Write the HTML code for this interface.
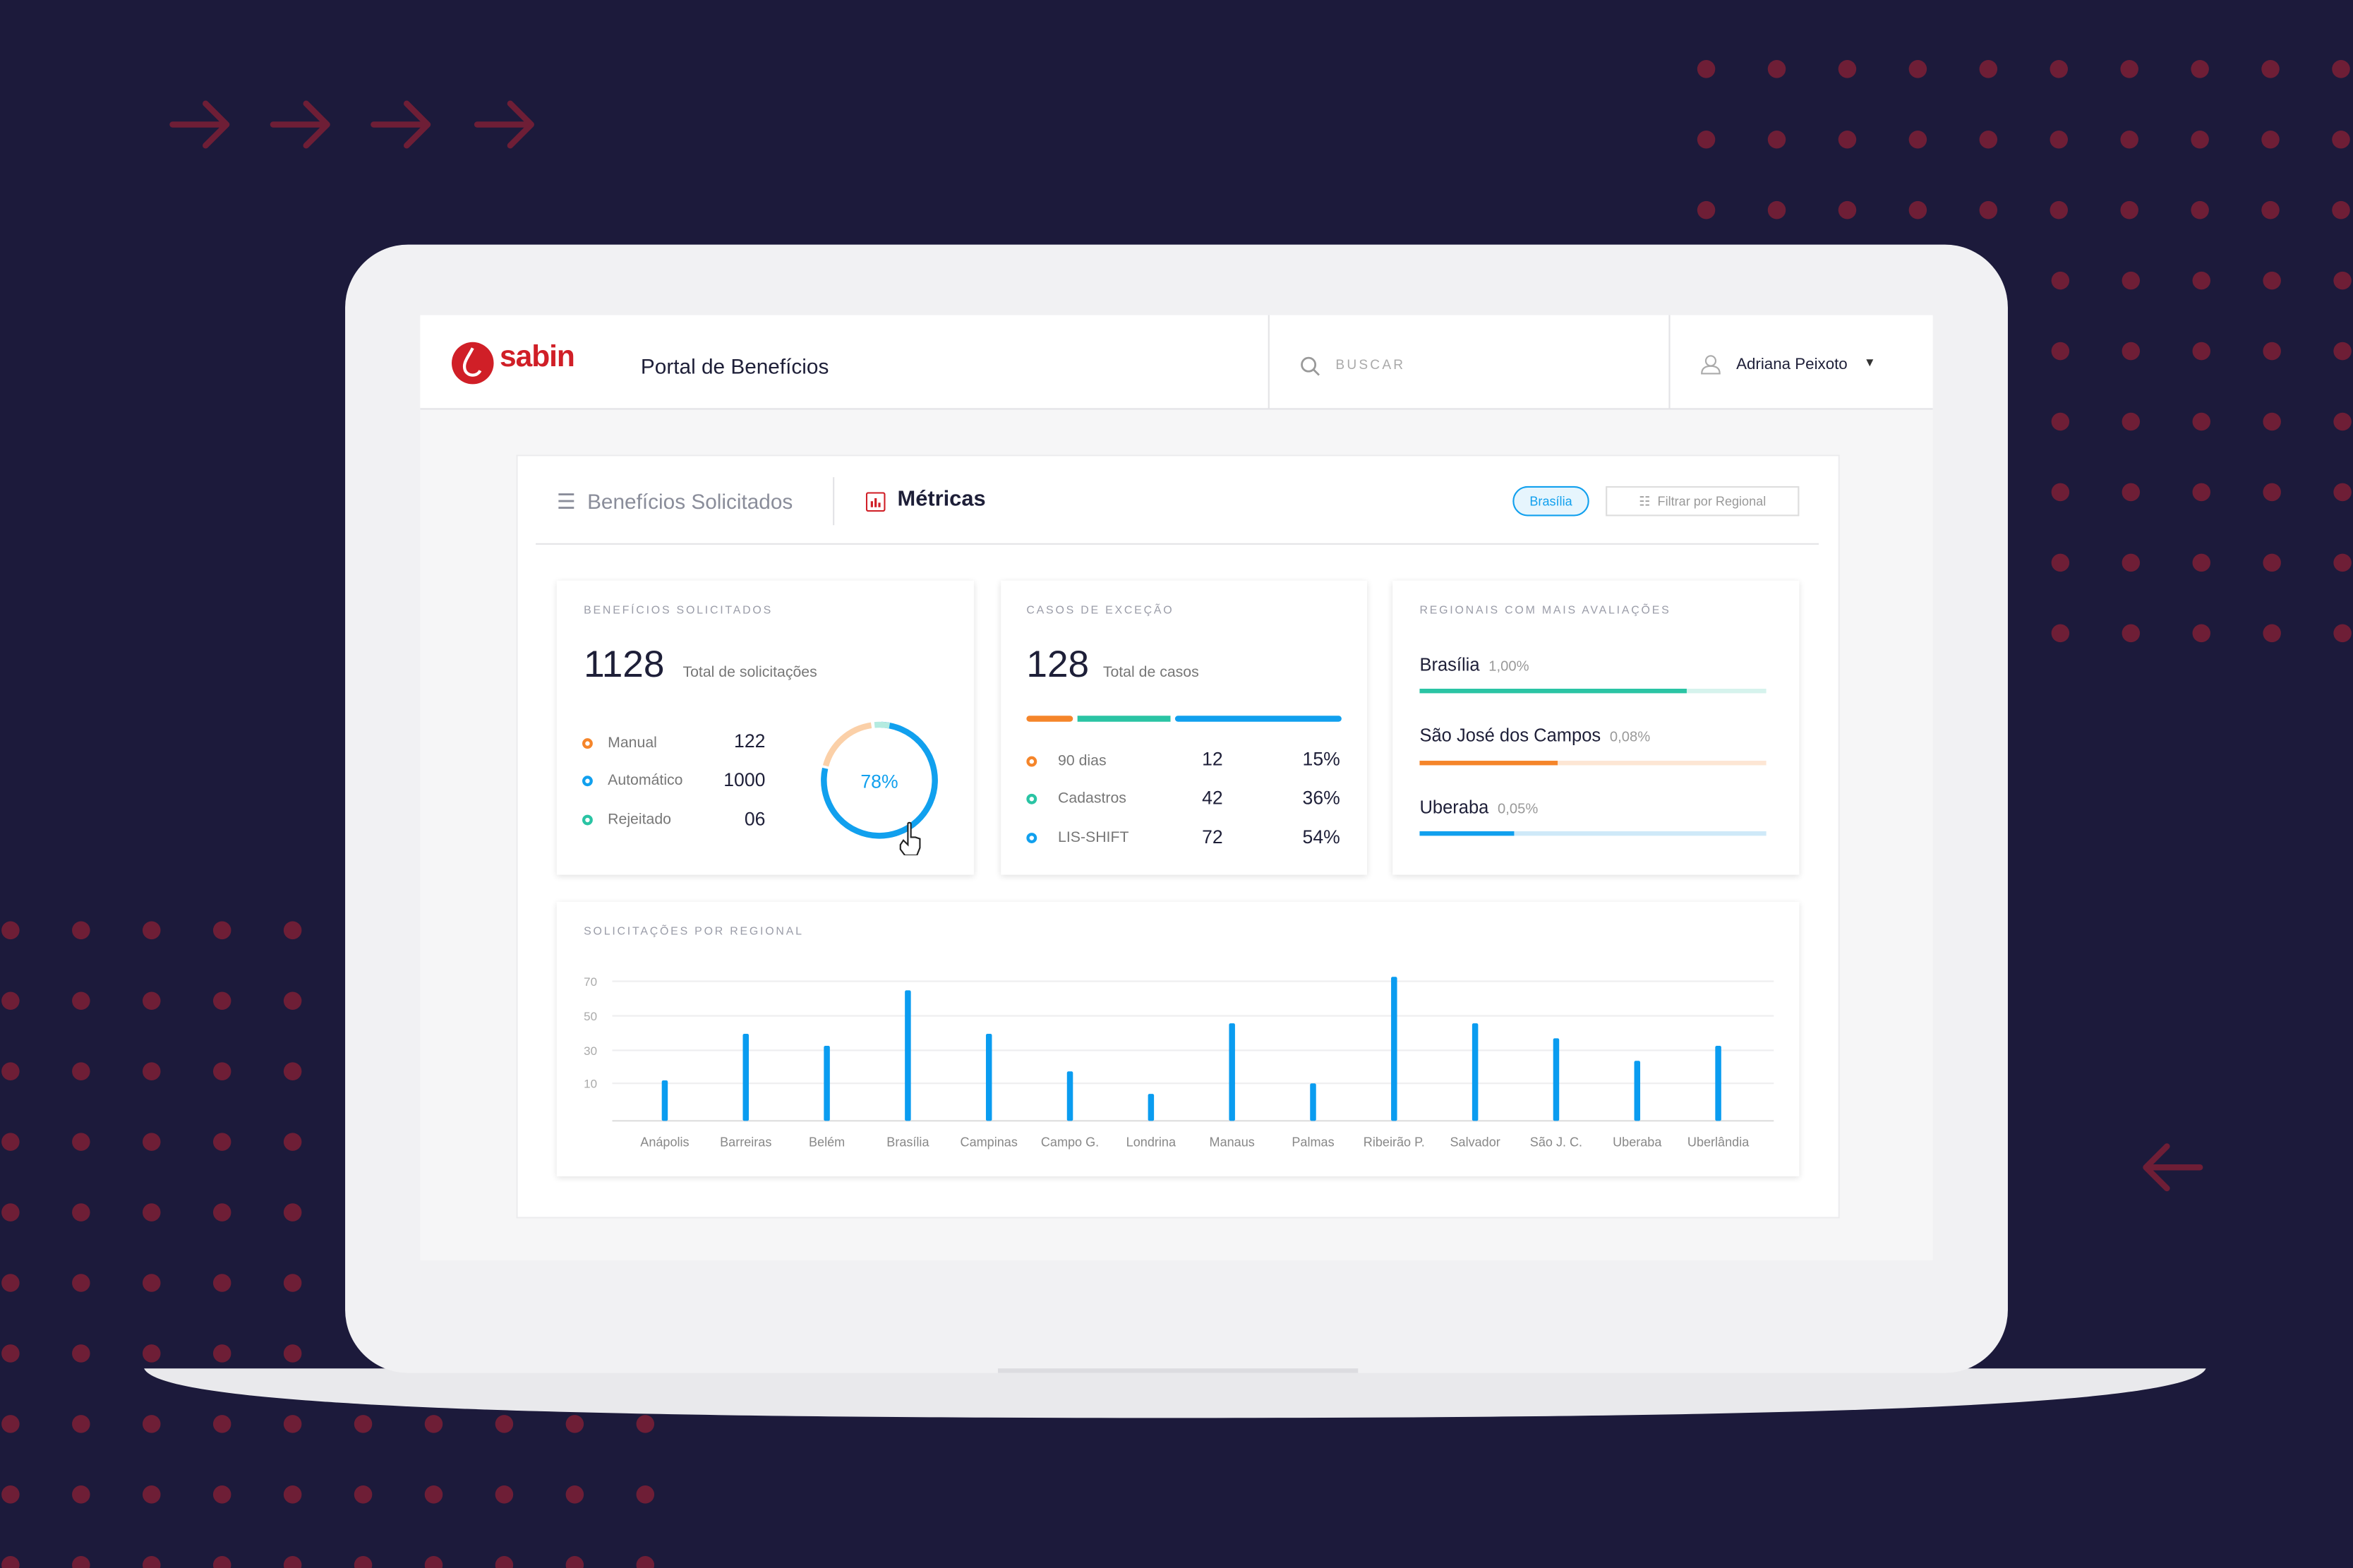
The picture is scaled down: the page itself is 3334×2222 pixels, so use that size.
<!DOCTYPE html>
<html><head><meta charset="utf-8"><style>
*{margin:0;padding:0;box-sizing:border-box}
html,body{width:3334px;height:2222px;overflow:hidden;background:#1c1a3b}
#w{position:absolute;left:0;top:0;width:1568px;height:1045px;transform:scale(2.12628,2.12632);transform-origin:0 0;font-family:"Liberation Sans",sans-serif;}
.a{position:absolute}
.t{position:absolute;white-space:nowrap}
.card{position:absolute;background:#fff;box-shadow:0 1px 4px rgba(0,0,0,.12)}
.lab{font-size:7.5px;letter-spacing:1.3px;color:#9a9ca8}
.dot{position:absolute;width:7px;height:7px;border-radius:50%;border:2px solid}
</style></head><body><div id="w">
<svg class="a" style="left:0;top:0" width="1568" height="1045">
<g fill="#6e1e36" id="dots"></g>
<g stroke="#6e1e36" stroke-width="4" fill="none" stroke-linecap="round" stroke-linejoin="round">
<path d="M115 83h36M137 69l14 14-14 14"/><path d="M182 83h36M204 69l14 14-14 14"/><path d="M249 83h36M271 69l14 14-14 14"/><path d="M318 83h36M340 69l14 14-14 14"/>
<path d="M1466 778h-36M1444 764l-14 14 14 14"/>
</g>
<!-- laptop -->
<path d="M96 912h1374c-10 22-200 33-687 33s-677-11-687-33z" fill="#e9e9ec"/>
<rect x="230" y="163" width="1108" height="752" rx="42" fill="#f1f1f3"/>
<rect x="665" y="912" width="240" height="3" fill="#dcdce0"/>
</svg>
<script>
(function(){var g=document.getElementById('dots'),s='';
function d(x,y){s+='<circle cx="'+x+'" cy="'+y+'" r="6"/>';}
for(var r=0;r<9;r++){var y=46+47*r;for(var x=(r<3?1137:1373);x<1570;x+=47)d(x,y);}
for(var r=0;r<10;r++){var y=620+47*r;var mx=(y>=940)?435:200;for(var x=7;x<mx;x+=47)d(x,y);}
g.innerHTML=s;})();
</script>
<div class="a" style="left:280px;top:210px;width:1008px;height:630px;background:#f6f6f7"></div>
<div class="a" style="left:280px;top:210px;width:1008px;height:63px;background:#fff;border-bottom:1px solid #e3e3e6"></div>
<div class="a" style="left:845px;top:210px;width:1px;height:63px;background:#e3e3e6"></div>
<div class="a" style="left:1112px;top:210px;width:1px;height:63px;background:#e3e3e6"></div>
<svg class="a" style="left:300px;top:227px" width="32" height="32"><circle cx="15" cy="15" r="14" fill="#d01f27"/><path d="M15 5c-3 6-7 10-5 15 2 4 8 4 10 0" stroke="#fff" stroke-width="2" fill="none"/></svg>
<div class="t" style="left:333px;top:227px;font-size:20px;color:#d01f27;font-weight:bold;letter-spacing:-0.5px">sabin</div>
<div class="t" style="left:427px;top:236px;font-size:14px;color:#1e1f38">Portal de Benefícios</div>
<svg class="a" style="left:866px;top:237px" width="14" height="14"><circle cx="6" cy="6" r="4.5" stroke="#999" stroke-width="1.3" fill="none"/><path d="M9.5 9.5l3.5 3.5" stroke="#999" stroke-width="1.3"/></svg>
<div class="t" style="left:890px;top:238px;font-size:9px;letter-spacing:1.5px;color:#aaa">BUSCAR</div>
<svg class="a" style="left:1133px;top:236px" width="14" height="14"><circle cx="7" cy="4.5" r="3.3" stroke="#aaa" fill="none"/><path d="M1 13c0-4 3-5 6-5s6 1 6 5z" stroke="#aaa" fill="none"/></svg>
<div class="t" style="left:1157px;top:237px;font-size:10.5px;color:#1e1f38">Adriana Peixoto</div>
<div class="t" style="left:1242px;top:237px;font-size:8px;color:#333">▼</div>
<!-- panel -->
<div class="a" style="left:344px;top:303px;width:882px;height:509px;background:#fff;border:1px solid #ececee"></div>
<div class="t" style="left:371px;top:326px;font-size:14px;color:#8a8d9a">☰&nbsp; Benefícios Solicitados</div>
<div class="a" style="left:555px;top:318px;width:1px;height:32px;background:#e3e3e6"></div>
<svg class="a" style="left:577px;top:328px" width="13" height="13"><rect x=".5" y=".5" width="12" height="12" rx="1" fill="#fff" stroke="#d01f27"/><path d="M4 10V6M6.5 10V4M9 10V7" stroke="#d01f27" stroke-width="1.5"/></svg>
<div class="t" style="left:598px;top:325px;font-size:14.5px;color:#1e1f38;font-weight:bold">Métricas</div>
<div class="t" style="left:1008px;top:324px;width:51px;height:20px;border:1px solid #11a0ee;border-radius:10px;background:#e6f5fd;font-size:8.5px;color:#11a0ee;text-align:center;line-height:18px">Brasília</div>
<div class="t" style="left:1070px;top:324px;width:129px;height:20px;border:1px solid #ddd;font-size:8.5px;color:#999;text-align:center;line-height:18px">☷&nbsp; Filtrar por Regional</div>
<div class="a" style="left:357px;top:362px;width:855px;height:1px;background:#e3e3e6"></div>
<!-- card1 -->
<div class="card" style="left:371px;top:387px;width:278px;height:196px"></div>
<div class="t lab" style="left:389px;top:402px">BENEFÍCIOS SOLICITADOS</div>
<div class="t" style="left:389px;top:429px;font-size:25px;color:#1e1f38">1128</div>
<div class="t" style="left:455px;top:443px;font-size:10px;color:#777">Total de solicitações</div>
<div class="dot" style="left:388px;top:492px;border-color:#f5852a"></div>
<div class="dot" style="left:388px;top:517px;border-color:#11a0ee"></div>
<div class="dot" style="left:388px;top:543px;border-color:#2ac4a4"></div>
<div class="t" style="left:405px;top:490px;font-size:10px;color:#777">Manual</div>
<div class="t" style="left:405px;top:515px;font-size:10px;color:#777">Automático</div>
<div class="t" style="left:405px;top:541px;font-size:10px;color:#777">Rejeitado</div>
<div class="t" style="left:460px;top:487px;width:50px;text-align:right;font-size:12.5px;color:#1e1f38">122</div>
<div class="t" style="left:460px;top:513px;width:50px;text-align:right;font-size:12.5px;color:#1e1f38">1000</div>
<div class="t" style="left:460px;top:539px;width:50px;text-align:right;font-size:12.5px;color:#1e1f38">06</div>
<svg class="a" style="left:540px;top:475px" width="95" height="95">
<circle cx="46" cy="45" r="37" fill="none" stroke="#11a0ee" stroke-width="4" stroke-dasharray="181 300" transform="rotate(-88 46 45)"/>
<circle cx="46" cy="45" r="37" fill="none" stroke="#fbd0a8" stroke-width="4" stroke-dasharray="43 300" transform="rotate(195 46 45)"/>
<circle cx="46" cy="45" r="37" fill="none" stroke="#b4ebe0" stroke-width="4" stroke-dasharray="10 300" transform="rotate(265 46 45)"/>
<text x="46" y="50" font-size="12.5" fill="#11a0ee" text-anchor="middle" font-family="Liberation Sans">78%</text>
<path d="M65 74v14l-3-3-2 3v3l3 4h8l2-5v-6l-3-1-2 0-1 0v-9c0-1-2-1-2 0z" fill="#fff" stroke="#222" stroke-width="1"/>
</svg>
<!-- card2 -->
<div class="card" style="left:667px;top:387px;width:244px;height:196px"></div>
<div class="t lab" style="left:684px;top:402px">CASOS DE EXCEÇÃO</div>
<div class="t" style="left:684px;top:429px;font-size:25px;color:#1e1f38">128</div>
<div class="t" style="left:735px;top:443px;font-size:10px;color:#777">Total de casos</div>
<div class="a" style="left:684px;top:477px;width:31px;height:4px;background:#f5852a;border-radius:2px"></div>
<div class="a" style="left:718px;top:477px;width:62px;height:4px;background:#2ac4a4"></div>
<div class="a" style="left:783px;top:477px;width:111px;height:4px;background:#11a0ee;border-radius:2px"></div>
<div class="dot" style="left:684px;top:504px;border-color:#f5852a"></div>
<div class="dot" style="left:684px;top:529px;border-color:#2ac4a4"></div>
<div class="dot" style="left:684px;top:555px;border-color:#11a0ee"></div>
<div class="t" style="left:705px;top:502px;font-size:10px;color:#777">90 dias</div>
<div class="t" style="left:705px;top:527px;font-size:10px;color:#777">Cadastros</div>
<div class="t" style="left:705px;top:553px;font-size:10px;color:#777">LIS-SHIFT</div>
<div class="t" style="left:801px;top:499px;font-size:12.5px;color:#1e1f38">12</div>
<div class="t" style="left:801px;top:525px;font-size:12.5px;color:#1e1f38">42</div>
<div class="t" style="left:801px;top:551px;font-size:12.5px;color:#1e1f38">72</div>
<div class="t" style="left:850px;top:499px;width:43px;text-align:right;font-size:12.5px;color:#1e1f38">15%</div>
<div class="t" style="left:850px;top:525px;width:43px;text-align:right;font-size:12.5px;color:#1e1f38">36%</div>
<div class="t" style="left:850px;top:551px;width:43px;text-align:right;font-size:12.5px;color:#1e1f38">54%</div>
<!-- card3 -->
<div class="card" style="left:928px;top:387px;width:271px;height:196px"></div>
<div class="t lab" style="left:946px;top:402px">REGIONAIS COM MAIS AVALIAÇÕES</div>
<div class="t" style="left:946px;top:436px;font-size:12px;color:#1e1f38">Brasília <span style="font-size:9.5px;color:#999">&nbsp;1,00%</span></div>
<div class="a" style="left:946px;top:459px;width:231px;height:3px;background:#d6f3ed"></div><div class="a" style="left:946px;top:459px;width:178px;height:3px;background:#2ac4a4"></div>
<div class="t" style="left:946px;top:483px;font-size:12px;color:#1e1f38">São José dos Campos <span style="font-size:9.5px;color:#999">&nbsp;0,08%</span></div>
<div class="a" style="left:946px;top:507px;width:231px;height:3px;background:#fde6d4"></div><div class="a" style="left:946px;top:507px;width:92px;height:3px;background:#f5852a"></div>
<div class="t" style="left:946px;top:531px;font-size:12px;color:#1e1f38">Uberaba <span style="font-size:9.5px;color:#999">&nbsp;0,05%</span></div>
<div class="a" style="left:946px;top:554px;width:231px;height:3px;background:#cfe9f8"></div><div class="a" style="left:946px;top:554px;width:63px;height:3px;background:#11a0ee"></div>
<!-- chart -->
<div class="card" style="left:371px;top:601px;width:828px;height:183px"></div>
<div class="t lab" style="left:389px;top:616px">SOLICITAÇÕES POR REGIONAL</div>
<svg class="a" style="left:371px;top:601px" width="828" height="183" font-family="Liberation Sans">
<g stroke="#eeeeef"><path d="M37 53h774M37 76h774M37 99h774M37 121h774"/></g>
<path d="M37 146h774" stroke="#ddd"/>
<g font-size="8" fill="#aaa"><text x="18" y="56">70</text><text x="18" y="79">50</text><text x="18" y="102">30</text><text x="18" y="124">10</text></g>
<g id="bars" fill="#0a9cf0"></g>
<g id="xl" font-size="8.5" fill="#888" text-anchor="middle"></g>
</svg>
<script>
(function(){var n=["Anápolis","Barreiras","Belém","Brasília","Campinas","Campo G.","Londrina","Manaus","Palmas","Ribeirão P.","Salvador","São J. C.","Uberaba","Uberlândia"],
t=[720,689,697,660,689,714,729,682,722,651,682,692,707,697],b='',l='';
for(var i=0;i<14;i++){var x=443+54*i-371;b+='<rect x="'+(x-2)+'" y="'+(t[i]-601)+'" width="4" height="'+(747-t[i])+'" rx="1"/>';l+='<text x="'+x+'" y="163">'+n[i]+'</text>';}
document.getElementById('bars').innerHTML=b;document.getElementById('xl').innerHTML=l;})();
</script>
</div></body></html>
